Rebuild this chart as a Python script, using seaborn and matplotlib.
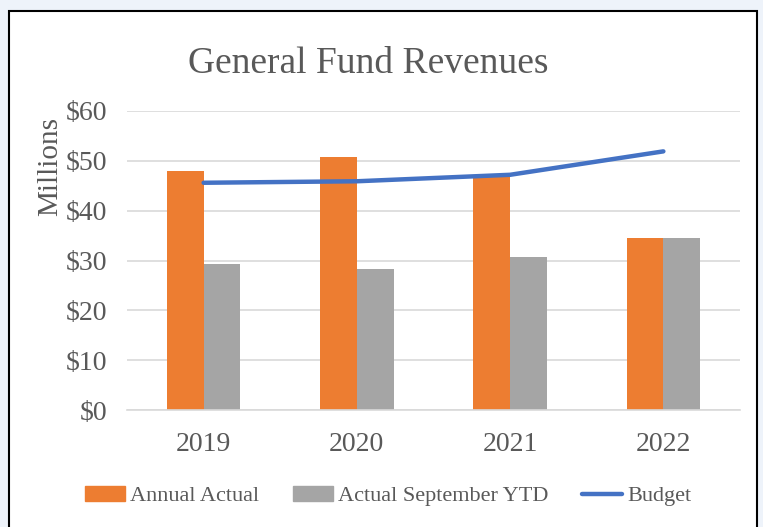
import matplotlib.pyplot as plt
import matplotlib.patches as mpatches
from matplotlib.lines import Line2D
import seaborn as sns
import pandas as pd

# dados (milhoes)
anos = ['2019', '2020', '2021', '2022']
annual_actual = [48.0, 50.7, 46.9, 34.5]
sept_ytd = [29.3, 28.3, 30.7, 34.5]
budget = [45.6, 45.9, 47.2, 51.9]
yticks = [0, 10, 20, 30, 40, 50, 60]
ytick_labels = ['$0', '$10', '$20', '$30', '$40', '$50', '$60']

serie_a = 'Annual Actual'
serie_b = 'Actual September YTD'
serie_c = 'Budget'

cores = {serie_a: '#ED7D31', serie_b: '#A5A5A5'}
azul = '#4472C4'
cinza_txt = '#595959'

df = pd.DataFrame({
    'Ano': anos * 2,
    'Valor': annual_actual + sept_ytd,
    'Serie': [serie_a] * 4 + [serie_b] * 4,
})

sns.set_style('white')
plt.rcParams['font.family'] = ['Liberation Serif', 'DejaVu Serif']

W, H = 763, 527
fig = plt.figure(figsize=(W / 100, H / 100), dpi=100)
fig.patch.set_facecolor('#EEF3FA')

# moldura branca do grafico
fig.patches.append(mpatches.Rectangle((9 / W, -0.05), (757 - 9) / W, (H - 11) / H + 0.05,
                                      transform=fig.transFigure, facecolor='white',
                                      edgecolor='black', linewidth=1.5, zorder=-5))

ax = fig.add_axes([127 / W, (H - 410) / H, (740 - 127) / W, (410 - 111) / H])
ax.set_facecolor('none')

sns.barplot(data=df, x='Ano', y='Valor', hue='Serie', palette=cores, width=0.48,
            linewidth=0, saturation=1, ax=ax, zorder=2)
sns.lineplot(x=list(range(len(anos))), y=budget, color=azul, linewidth=3.2,
             ax=ax, zorder=3, solid_capstyle='round')

ax.set_ylim(0, 60)
ax.set_xlim(-0.5, 3.5)
ax.set_yticks(yticks)
ax.set_yticklabels(ytick_labels)
ax.yaxis.grid(True, color='#D9D9D9', linewidth=1.2, zorder=0)
ax.set_axisbelow(True)
for s in ['top', 'right', 'left']:
    ax.spines[s].set_visible(False)
ax.spines['bottom'].set_color('#D9D9D9')
ax.spines['bottom'].set_linewidth(1.2)
ax.tick_params(axis='y', length=0, pad=14, labelsize=20, labelcolor=cinza_txt)
ax.tick_params(axis='x', length=0, pad=16, labelsize=20, labelcolor=cinza_txt)
ax.set_xlabel('')
ax.set_ylabel('')
if ax.get_legend() is not None:
    ax.get_legend().remove()

fig.text(368 / W, 1 - 64 / H, 'General Fund Revenues', fontsize=27, color=cinza_txt,
         ha='center', va='center')
fig.text(50 / W, 1 - 167 / H, 'Millions', fontsize=21, color=cinza_txt, rotation=90,
         ha='center', va='center')

handles = [mpatches.Patch(color=cores[serie_a]), mpatches.Patch(color=cores[serie_b]),
           Line2D([0], [0], color=azul, linewidth=3.2)]
fig.legend(handles, [serie_a, serie_b, serie_c], loc='center', bbox_to_anchor=(388 / W, 1 - 496 / H),
           ncol=3, frameon=False, fontsize=16, labelcolor=cinza_txt, handlelength=1.8,
           handleheight=0.65, handletextpad=0.25, columnspacing=1.5)

fig.savefig('out.png', dpi=100, facecolor=fig.get_facecolor())
